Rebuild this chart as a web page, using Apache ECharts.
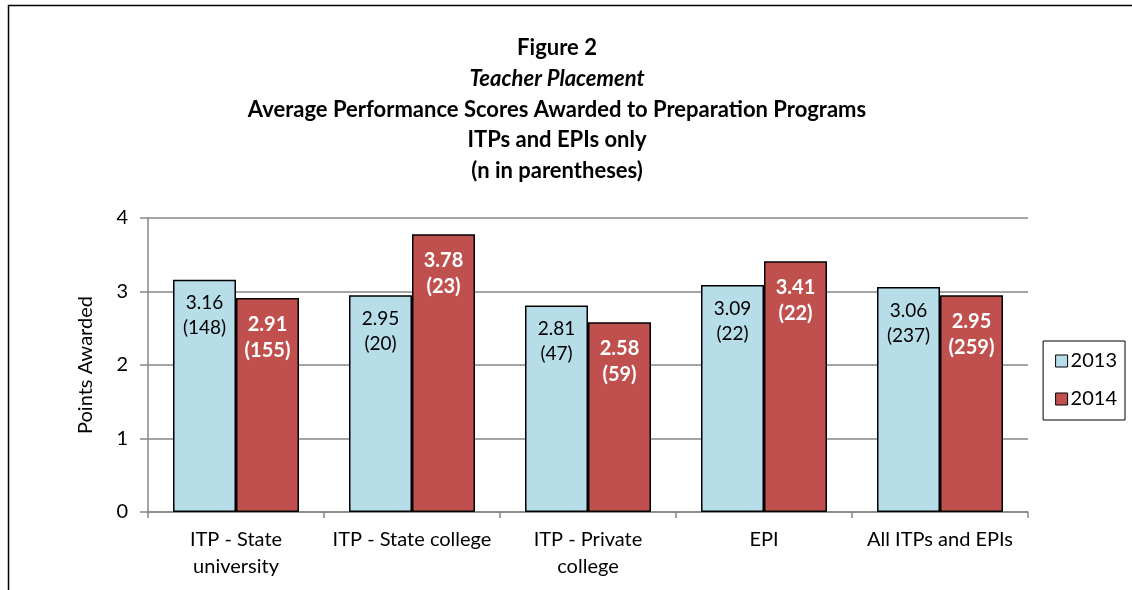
<!DOCTYPE html>
<html>
<head>
<meta charset="utf-8">
<script src="https://cdn.jsdelivr.net/npm/echarts@6/dist/echarts.min.js"></script>
<style>
  html, body { margin: 0; padding: 0; background: #fff; }
  #main { width: 1132px; height: 590px; }
</style>
</head>
<body>
<div id="main"></div>
<script>
// 数据
var categories = ['ITP - State\nuniversity', 'ITP - State college', 'ITP - Private\ncollege', 'EPI', 'All ITPs and EPIs'];
var scores2013 = [3.16, 2.95, 2.81, 3.09, 3.06];
var scores2014 = [2.91, 3.78, 2.58, 3.41, 2.95];
var n2013 = [148, 20, 47, 22, 237];
var n2014 = [155, 23, 59, 22, 259];
var yTicks = [0, 1, 2, 3, 4];

var FONT = 'Lato';
var titleLines = [
  { text: 'Figure 2', y: 48, style: 'normal' },
  { text: 'Teacher Placement', y: 79, style: 'italic' },
  { text: 'Average Performance Scores Awarded to Preparation Programs', y: 110, style: 'normal' },
  { text: 'ITPs and EPIs only', y: 140, style: 'normal' },
  { text: '(n in parentheses)', y: 171, style: 'normal' }
];

var myChart = echarts.init(document.getElementById('main'));
var option = {
  animation: false,
  textStyle: { fontFamily: FONT },
  graphic: [
    {
      type: 'rect',
      shape: { x: 8.5, y: 5.5, width: 1300, height: 800 },
      style: { fill: 'none', stroke: '#000', lineWidth: 1.5 }
    }
  ].concat(titleLines.map(function (t) {
    return {
      type: 'text',
      x: 557,
      y: t.y,
      style: {
        text: t.text,
        fontFamily: FONT,
        fontSize: 22,
        fontWeight: 'bold',
        fontStyle: t.style,
        fill: '#000',
        textAlign: 'center',
        textVerticalAlign: 'middle'
      }
    };
  })),
  grid: { left: 148, right: 104, top: 218, bottom: 78 },
  legend: {
    orient: 'vertical',
    right: 7,
    top: 341,
    data: ['2013', '2014'],
    itemWidth: 12,
    itemHeight: 12,
    itemGap: 18,
    padding: [10, 8, 11, 12],
    borderColor: '#000',
    borderWidth: 1,
    icon: 'rect',
    itemStyle: { borderColor: '#000', borderWidth: 1 },
    textStyle: { fontFamily: FONT, fontSize: 20, color: '#000', padding: [0, 0, 0, -2] }
  },
  xAxis: {
    type: 'category',
    data: categories,
    axisLine: { lineStyle: { color: '#868686', width: 1.5 } },
    axisTick: { show: true, length: 6, lineStyle: { color: '#868686', width: 1.5 } },
    axisLabel: { color: '#000', fontFamily: FONT, fontSize: 20, lineHeight: 27, margin: 14, interval: 0 }
  },
  yAxis: {
    type: 'value',
    min: yTicks[0],
    max: yTicks[yTicks.length - 1],
    interval: 1,
    name: 'Points Awarded',
    nameLocation: 'middle',
    nameGap: 52,
    nameTextStyle: { fontFamily: FONT, fontSize: 20, color: '#000' },
    axisLine: { show: true, lineStyle: { color: '#868686', width: 1.5 } },
    axisTick: { show: true, length: 8, lineStyle: { color: '#868686', width: 1.5 } },
    axisLabel: { color: '#000', fontFamily: FONT, fontSize: 20, margin: 20 },
    splitLine: { lineStyle: { color: '#868686', width: 1.5 } }
  },
  series: [
    {
      name: '2013',
      type: 'bar',
      data: scores2013,
      barWidth: 63,
      barGap: '0%',
      itemStyle: { color: '#B7DDE8', borderColor: '#000', borderWidth: 1.5 },
      label: {
        show: true,
        position: 'insideTop',
        distance: 11,
        fontFamily: FONT,
        fontSize: 19,
        lineHeight: 25,
        color: '#000',
        formatter: function (p) { return p.value.toFixed(2) + '\n(' + n2013[p.dataIndex] + ')'; }
      }
    },
    {
      name: '2014',
      type: 'bar',
      data: scores2014,
      barWidth: 63,
      itemStyle: { color: '#C0504D', borderColor: '#000', borderWidth: 1.5 },
      label: {
        show: true,
        position: 'insideTop',
        distance: 13,
        fontFamily: FONT,
        fontSize: 20,
        fontWeight: 'bold',
        lineHeight: 26,
        color: '#fff',
        formatter: function (p) { return p.value.toFixed(2) + '\n(' + n2014[p.dataIndex] + ')'; }
      }
    }
  ]
};
myChart.setOption(option);
</script>
</body>
</html>
